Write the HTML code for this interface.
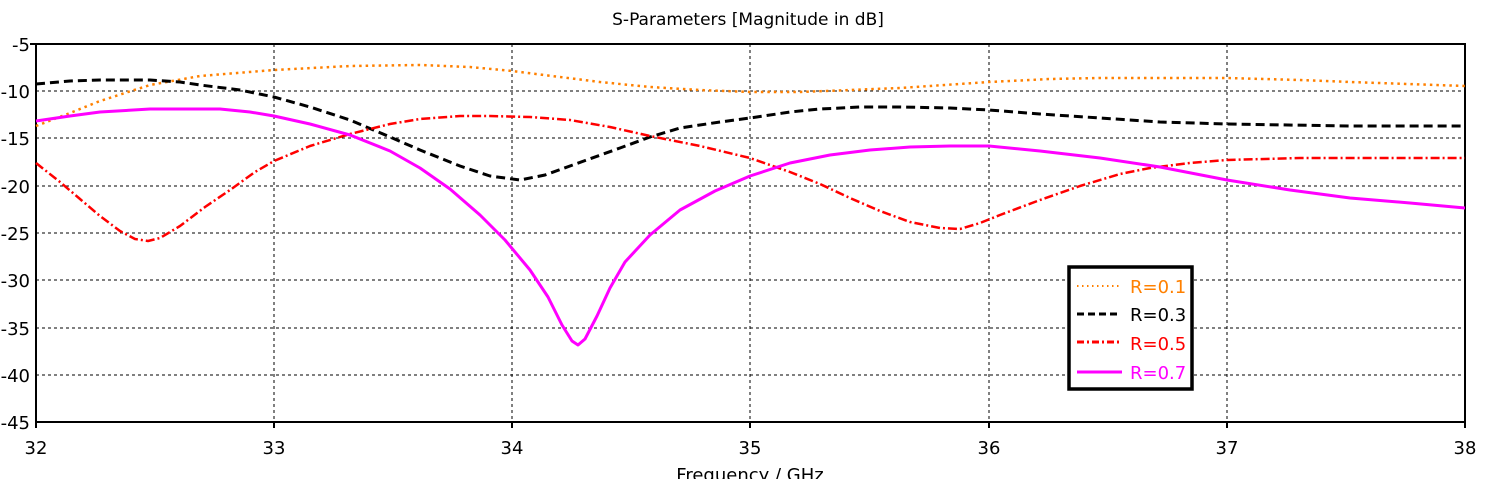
<!DOCTYPE html>
<html><head><meta charset="utf-8"><style>body{margin:0;background:#fff}svg{display:block}text{font-family:"DejaVu Sans","Liberation Sans",sans-serif}</style></head><body>
<svg width="1494" height="479" xmlns="http://www.w3.org/2000/svg">
<rect width="1494" height="479" fill="#fff"/>
<text x="748" y="25" font-size="17" text-anchor="middle">S-Parameters [Magnitude in dB]</text>
<g stroke="#000" stroke-width="1" stroke-dasharray="3,3" shape-rendering="crispEdges">
<line x1="36" y1="91" x2="1465" y2="91"/><line x1="36" y1="138" x2="1465" y2="138"/><line x1="36" y1="186" x2="1465" y2="186"/><line x1="36" y1="233" x2="1465" y2="233"/><line x1="36" y1="280" x2="1465" y2="280"/><line x1="36" y1="328" x2="1465" y2="328"/><line x1="36" y1="375" x2="1465" y2="375"/>
<line x1="274" y1="44" x2="274" y2="422"/><line x1="512" y1="44" x2="512" y2="422"/><line x1="750" y1="44" x2="750" y2="422"/><line x1="989" y1="44" x2="989" y2="422"/><line x1="1227" y1="44" x2="1227" y2="422"/>
</g>
<rect x="36" y="44" width="1429" height="378" fill="none" stroke="#000" stroke-width="2" shape-rendering="crispEdges"/>
<g stroke="#000" stroke-width="2" shape-rendering="crispEdges"><line x1="274" y1="422" x2="274" y2="428"/><line x1="512" y1="422" x2="512" y2="428"/><line x1="750" y1="422" x2="750" y2="428"/><line x1="989" y1="422" x2="989" y2="428"/><line x1="1227" y1="422" x2="1227" y2="428"/><line x1="36" y1="422" x2="36" y2="428"/><line x1="1465" y1="422" x2="1465" y2="428"/><line x1="30" y1="44" x2="36" y2="44"/></g>
<g font-size="18" text-anchor="end">
<text x="30" y="51">-5</text><text x="30" y="98">-10</text><text x="30" y="145">-15</text><text x="30" y="193">-20</text><text x="30" y="240">-25</text><text x="30" y="287">-30</text><text x="30" y="335">-35</text><text x="30" y="382">-40</text><text x="30" y="429">-45</text></g>
<g font-size="18" text-anchor="middle">
<text x="36" y="454">32</text><text x="274" y="454">33</text><text x="512" y="454">34</text><text x="750" y="454">35</text><text x="989" y="454">36</text><text x="1227" y="454">37</text><text x="1465" y="454">38</text>
<text x="750" y="481">Frequency / GHz</text></g>
<g fill="none" stroke-linejoin="round">
<polyline stroke="#ff8000" stroke-width="2.5" stroke-dasharray="2.5,4" points="36,126 70,113 100,101 150,85 200,76 274,70 350,66 420,65 470,67 512,71 560,77 600,82 650,87 700,90 750,92 800,92 850,90 900,88 989,82 1050,79 1100,78 1227,78 1300,80 1350,82 1465,86"/>
<polyline stroke="#000" stroke-width="3" stroke-dasharray="9,5" points="36,84 70,81 100,80 150,80 180,82 200,85 240,90 274,97 310,107 350,120 390,137 420,150 460,166 490,176 520,180 545,175 570,166 620,148 650,137 680,128 720,122 750,118 790,112 820,109 860,107 900,107 950,108 989,110 1040,114 1100,118 1160,122 1227,124 1350,126 1465,126"/>
<polyline stroke="#ff0000" stroke-width="2.5" stroke-dasharray="9,3,2,3" points="36,163 60,182 80,199 100,216 120,231 135,239 148,241 160,238 180,226 205,207 230,190 255,172 274,161 310,146 350,134 390,124 420,119 460,116 490,116 530,117 570,120 610,127 650,136 700,146 750,158 790,172 820,184 850,198 880,211 910,222 940,228 960,229 980,223 1000,215 1040,200 1080,186 1120,174 1150,168 1190,163 1227,160 1300,158 1465,158"/>
<polyline stroke="#ff00ff" stroke-width="3" points="36,121 70,116 100,112 150,109 220,109 250,112 274,116 310,124 350,135 390,151 420,168 450,189 480,215 505,240 530,270 548,297 562,325 572,341 578,345 585,339 597,316 610,288 625,262 650,235 680,210 715,191 750,176 790,163 830,155 870,150 910,147 950,146 989,146 1040,151 1100,158 1160,167 1227,180 1290,190 1350,198 1410,203 1465,208"/>
</g>
<rect x="1069" y="267" width="123" height="122" fill="#fff" stroke="#000" stroke-width="3.5"/>
<g stroke-width="3">
<line x1="1077" y1="286" x2="1121" y2="286" stroke="#ff8000" stroke-width="2" stroke-dasharray="1.5,3.5"/>
<line x1="1077" y1="314" x2="1121" y2="314" stroke="#000" stroke-dasharray="7,4"/>
<line x1="1077" y1="342" x2="1121" y2="342" stroke="#ff0000" stroke-dasharray="7,3,2,3"/>
<line x1="1077" y1="372" x2="1122" y2="372" stroke="#ff00ff"/>
</g>
<g font-size="18">
<text x="1130" y="293" fill="#ff8000">R=0.1</text><text x="1130" y="321" fill="#000">R=0.3</text><text x="1130" y="350" fill="#ff0000">R=0.5</text><text x="1130" y="379" fill="#ff00ff">R=0.7</text></g>
</svg>
</body></html>
